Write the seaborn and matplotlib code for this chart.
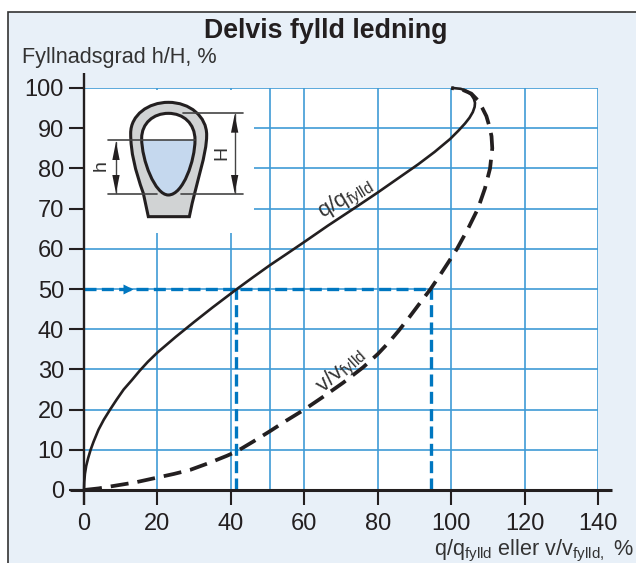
import numpy as np
import pandas as pd
import matplotlib
matplotlib.use("Agg")
import matplotlib.pyplot as plt
import seaborn as sns
from matplotlib.patches import Rectangle, PathPatch, Polygon
from matplotlib.path import Path

title = "Delvis fylld ledning"
y_label = "Fyllnadsgrad h/H, %"
x_label = r"q/q$_{\mathrm{fylld}}$ eller v/v$_{\mathrm{fylld,}}$ %"
q_label = r"q/q$_{\mathrm{fylld}}$"
v_label = r"v/v$_{\mathrm{fylld}}$"

q_x = [0, 0.07, 0.25, 0.6, 1.15, 1.8, 2.6, 3.95, 5.4, 7.1, 8.9, 10.8, 13, 15.2, 17.4, 20, 25, 30, 35, 41.5, 46, 50.6, 55, 60,
       66.5, 73.8, 80, 85.5, 91, 95.5, 99.7, 102, 103.8, 105, 105.9, 106.4, 106.5, 106.2, 105.5, 104.3, 102.6, 100.4]
q_h = [0, 2, 4, 6, 8, 10, 12, 15, 17.5, 20, 22.5, 25, 27.3, 29.7, 31.9, 34.2, 38.1, 41.8, 45.4, 49.9, 52.9, 55.9, 58.6, 61.7,
       65.8, 70.2, 74, 77.5, 81, 84.1, 87.3, 89.4, 91.2, 92.6, 94, 95.3, 96.3, 97.3, 98.3, 99.2, 99.8, 100]
v_x = [0, 4, 8, 14, 20, 24.5, 28.9, 34, 38.9, 41.6, 46, 50.6, 55, 60, 65, 70.6, 76, 80, 83, 85.6, 88.7, 91.5, 94.4,
       97, 99.5, 101.6, 104.6, 107.3, 109.2, 110.6, 111.2, 111, 110.4, 109.6, 108.5, 107.2, 105.5, 103, 100]
v_h = [0, 0.4, 1, 1.9, 3.1, 4, 5, 6.7, 8.5, 9.6, 12, 14.6, 17.2, 20, 23.1, 26.7, 30.5, 33.8, 36.7, 39.5, 43.1, 46.5, 50,
       53.5, 57, 60, 65, 70, 75, 80, 85, 88, 90.5, 93, 95, 97, 98.6, 99.6, 100]
x_ticks = [0, 20, 40, 60, 80, 100, 120, 140]
y_ticks = [0, 10, 20, 30, 40, 50, 60, 70, 80, 90, 100]
extra_grid_x = [50.6]
read_h = 50
read_q = 41.5
read_v = 94.6

W, H = 636, 563
BLUE = "#0077C0"
GRID = "#3F9BD6"
INK = "#231F20"
PANEL = "#E8F0F8"

sns.set_theme(style="white")
plt.rcParams["font.family"] = ["Liberation Sans", "DejaVu Sans"]
plt.rcParams["mathtext.fontset"] = "custom"
plt.rcParams["mathtext.rm"] = "Liberation Sans"
plt.rcParams["mathtext.default"] = "regular"

fig = plt.figure(figsize=(W / 100, H / 100), dpi=100, facecolor="white")
fig.add_artist(Rectangle((8 / W, -0.02), 1, 1.02 - 12 / H, transform=fig.transFigure,
                         fc=PANEL, ec="#333333", lw=1.2, zorder=-5))

ax = fig.add_axes([84 / W, (H - 490) / H, (598 - 84) / W, (490 - 88) / H])
ax.set_facecolor("white")
ax.set_xlim(0, 140)
ax.set_ylim(0, 100)
ax.set_xticks(x_ticks)
ax.set_xticks(extra_grid_x, minor=True)
ax.set_yticks(y_ticks)
ax.set_axisbelow(True)
ax.grid(True, which="both", color=GRID, lw=1.2)
ax.tick_params(axis="both", which="major", length=10.5, width=1.5, color=INK,
               labelsize=17, labelcolor=INK, pad=4, left=True, bottom=True)
ax.tick_params(axis="x", which="major", pad=6)
ax.tick_params(axis="x", which="minor", length=0)
for s in ax.spines.values():
    s.set_visible(False)
ax.add_patch(Rectangle((0.3, 63.9), 46, 35.7, fc="white", ec="none", zorder=1))

df_q = pd.DataFrame({"x": q_x, "h": q_h})
df_v = pd.DataFrame({"x": v_x, "h": v_h})

blue_dash = (0, (3.6, 1.6))
ax.plot([0, read_v], [read_h, read_h], color=BLUE, lw=2.4, ls=blue_dash, zorder=2)
ax.plot([read_q, read_q], [0, read_h], color=BLUE, lw=2.4, ls=blue_dash, zorder=2)
ax.plot([read_v, read_v], [0, read_h], color=BLUE, lw=2.4, ls=blue_dash, zorder=2)
ax.plot([12], [read_h], marker=">", ms=7, color=BLUE, mec="none", zorder=2)

sns.lineplot(data=df_q, x="x", y="h", sort=False, estimator=None, color=INK, lw=1.9, ax=ax, zorder=3, clip_on=False)
sns.lineplot(data=df_v, x="x", y="h", sort=False, estimator=None, color=INK, lw=2.7, ax=ax, zorder=3, clip_on=False,
             linestyle=(0, (4.8, 2.4)))
ax.set_xlabel("")
ax.set_ylabel("")

ov = fig.add_axes([0, 0, 1, 1], facecolor="none", zorder=5)
ov.set_xlim(0, W)
ov.set_ylim(H, 0)
ov.axis("off")

# axis lines
ov.plot([84, 84], [73, 505], color=INK, lw=1.7, solid_capstyle="butt")
ov.plot([70, 612], [490, 490], color=INK, lw=2.2, solid_capstyle="butt")

# texts
ov.text(326, 31, title, ha="center", va="center", fontsize=19.3, fontweight="bold", color=INK)
ov.text(22, 57, y_label, ha="left", va="center", fontsize=15.6, color="#333333")
ov.text(634, 551, x_label, ha="right", va="center", fontsize=15.6, color="#333333")
ov.text(346, 199, q_label, ha="center", va="center", rotation=31, fontsize=16, color="#333333", rotation_mode="anchor")
ov.text(342, 371, v_label, ha="center", va="center", rotation=42, fontsize=16, color="#333333", rotation_mode="anchor")


# schematic of the pipe, in pixels of the figure
def P(zx, zy):
    return (80 + zx / 3, 80 + zy / 3)


def bez(seq):
    verts, codes = [P(*seq[0])], [Path.MOVETO]
    for a, b, c in seq[1:]:
        verts += [P(*a), P(*b), P(*c)]
        codes += [Path.CURVE4] * 3
    verts.append(verts[0])
    codes.append(Path.CLOSEPOLY)
    return Path(verts, codes)


outer = Path(
    [P(205, 410), P(190, 340), P(165, 270), P(152, 215), P(152, 160), P(152, 105), P(205, 67), P(265, 67),
     P(330, 67), P(380, 110), P(380, 165), P(380, 225), P(350, 300), P(328, 410), P(205, 410)],
    [Path.MOVETO, Path.LINETO, Path.CURVE4, Path.CURVE4, Path.CURVE4, Path.CURVE4, Path.CURVE4, Path.CURVE4,
     Path.CURVE4, Path.CURVE4, Path.CURVE4, Path.CURVE4, Path.CURVE4, Path.LINETO, Path.CLOSEPOLY])
ov.add_patch(PathPatch(outer, fc="#D1D3D4", ec=INK, lw=2.2, zorder=3))

inner_seq = [(185, 175), ((185, 130), (220, 100), (265, 100)), ((310, 100), (345, 130), (345, 180)),
             ((345, 240), (310, 345), (265, 345)), ((225, 345), (185, 240), (185, 175))]
ov.add_patch(PathPatch(bez(inner_seq), fc="white", ec="none", zorder=4))
clip_rect = Rectangle(P(170, 181), 190 / 3, 180 / 3, transform=ov.transData)
water = PathPatch(bez(inner_seq), fc="#C5D8EE", ec="none", zorder=5)
ov.add_patch(water)
water.set_clip_path(clip_rect)
ov.add_patch(PathPatch(bez(inner_seq), fc="none", ec=INK, lw=2.2, zorder=6))

LINE = "#444444"
for a, b in [((310, 100), (488, 100)), ((85, 181), (345, 181)), ((85, 342), (230, 342)), ((302, 342), (488, 342))]:
    ov.plot(*zip(P(*a), P(*b)), color=LINE, lw=1.2, zorder=7)
for zx, z0, z1 in [(108, 185, 340), (464, 103, 340)]:
    ov.plot(*zip(P(zx, z0), P(zx, z1)), color=LINE, lw=1.0, zorder=7)
    ov.add_patch(Polygon([P(zx, z0), P(zx - 11, z0 + 55), P(zx + 11, z0 + 55)], fc=INK, ec="none", zorder=8))
    ov.add_patch(Polygon([P(zx, z1), P(zx - 11, z1 - 55), P(zx + 11, z1 - 55)], fc=INK, ec="none", zorder=8))
ov.text(*P(62, 257), "h", rotation=90, ha="center", va="center", fontsize=14, color="#333333", zorder=8)
ov.text(*P(426, 220), "H", rotation=90, ha="center", va="center", fontsize=14, color="#333333", zorder=8)

fig.savefig("out.png", dpi=100)
